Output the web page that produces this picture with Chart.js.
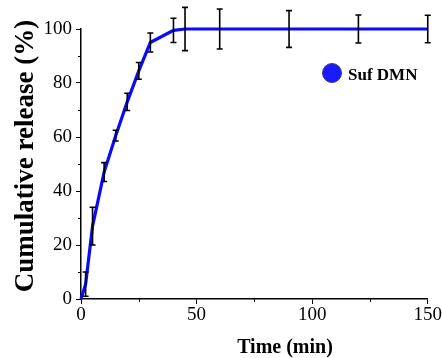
<!DOCTYPE html>
<html><head><meta charset="utf-8">
<script src="https://cdn.jsdelivr.net/npm/chart.js@4/dist/chart.umd.min.js"></script>
<style>html,body{margin:0;padding:0;background:#fff;overflow:hidden}</style>
</head><body>
<canvas id="c" width="442" height="358"></canvas>
<script>
// ---- data ----
const times   = [0, 2, 5, 10, 15, 20, 25, 30, 40, 45, 60, 90, 120, 150];
const release = [0, 5.5, 27, 47, 60.5, 73, 84.5, 95, 99.5, 100, 100, 100, 100, 100];
const errors  = [0, 4.5, 7, 3.5, 2, 3.2, 3.1, 3.5, 4.5, 8, 7.4, 6.8, 5.2, 5.1];
const seriesName = 'Suf DMN';
const xTitle = 'Time (min)';
const yTitle = 'Cumulative release (%)';
const xMinorTicks = [25, 75, 125];
const yMinorTicks = [10, 30, 50, 70, 90];

const SERIF = "'Liberation Serif', 'Times New Roman', serif";

const extras = {
  id: 'extras',
  afterDatasetsDraw(chart) {
    const ctx = chart.ctx, x = chart.scales.x, y = chart.scales.y;
    ctx.save();
    ctx.strokeStyle = '#000';
    ctx.lineWidth = 1.6;
    times.forEach((t, i) => {
      const e = errors[i];
      if (!e) return;
      const px = x.getPixelForValue(t);
      const y1 = y.getPixelForValue(release[i] + e);
      const y2 = y.getPixelForValue(release[i] - e);
      ctx.beginPath();
      ctx.moveTo(px, y1); ctx.lineTo(px, y2);
      ctx.moveTo(px - 3, y1); ctx.lineTo(px + 3, y1);
      ctx.moveTo(px - 3, y2); ctx.lineTo(px + 3, y2);
      ctx.stroke();
    });
    // minor ticks
    ctx.lineWidth = 1;
    ctx.beginPath();
    xMinorTicks.forEach(v => {
      const px = Math.round(x.getPixelForValue(v)) + 0.5;
      ctx.moveTo(px, y.bottom); ctx.lineTo(px, y.bottom + 3);
    });
    yMinorTicks.forEach(v => {
      const py = Math.round(y.getPixelForValue(v)) + 0.5;
      ctx.moveTo(x.left, py); ctx.lineTo(x.left - 3, py);
    });
    ctx.stroke();
    ctx.restore();
  },
  afterDraw(chart) {
    const ctx = chart.ctx;
    ctx.save();
    ctx.fillStyle = '#000';
    // x title
    ctx.font = "bold 20px " + SERIF;
    ctx.textAlign = 'center';
    ctx.textBaseline = 'alphabetic';
    ctx.fillText(xTitle, 285, 353);
    // y title
    ctx.translate(33, 156);
    ctx.rotate(-Math.PI / 2);
    ctx.font = "bold 27px " + SERIF;
    ctx.fillText(yTitle, 0, 0);
    ctx.restore();
    // legend
    ctx.save();
    ctx.beginPath();
    ctx.arc(332, 73, 9.5, 0, Math.PI * 2);
    ctx.fillStyle = '#1a1aff';
    ctx.fill();
    ctx.lineWidth = 1;
    ctx.strokeStyle = '#3a3a80';
    ctx.stroke();
    ctx.fillStyle = '#000';
    ctx.font = "bold 17px " + SERIF;
    ctx.textAlign = 'left';
    ctx.textBaseline = 'alphabetic';
    ctx.fillText(chart.data.datasets[0].label, 348, 80);
    ctx.restore();
  }
};

new Chart(document.getElementById('c'), {
  type: 'line',
  data: {
    datasets: [{
      label: seriesName,
      data: times.map((t, i) => ({ x: t, y: release[i] })),
      borderColor: '#0a0aff',
      backgroundColor: '#0a0aff',
      borderWidth: 3.2,
      pointRadius: 0,
      tension: 0,
      clip: false
    }]
  },
  options: {
    responsive: false,
    devicePixelRatio: 1,
    animation: false,
    layout: { padding: { left: 0, right: 14, top: 29, bottom: 0 } },
    plugins: { legend: { display: false }, tooltip: { enabled: false } },
    scales: {
      x: {
        type: 'linear', min: 0, max: 150,
        afterFit(s) { s.height = 59; },
        ticks: { stepSize: 50, color: '#000', padding: 0, maxRotation: 0,
                 font: { family: SERIF, size: 19 } },
        grid: { drawOnChartArea: false, drawTicks: true, tickLength: 5, color: '#000', lineWidth: 1 },
        border: { display: true, color: '#000', width: 1.5 }
      },
      y: {
        type: 'linear', min: 0, max: 100,
        afterFit(s) { s.width = 81; },
        ticks: { stepSize: 20, color: '#000', padding: 4,
                 font: { family: SERIF, size: 19 } },
        grid: { drawOnChartArea: false, drawTicks: true, tickLength: 5, color: '#000', lineWidth: 1 },
        border: { display: true, color: '#000', width: 1.5 }
      }
    }
  },
  plugins: [extras]
});
</script>
</body></html>
